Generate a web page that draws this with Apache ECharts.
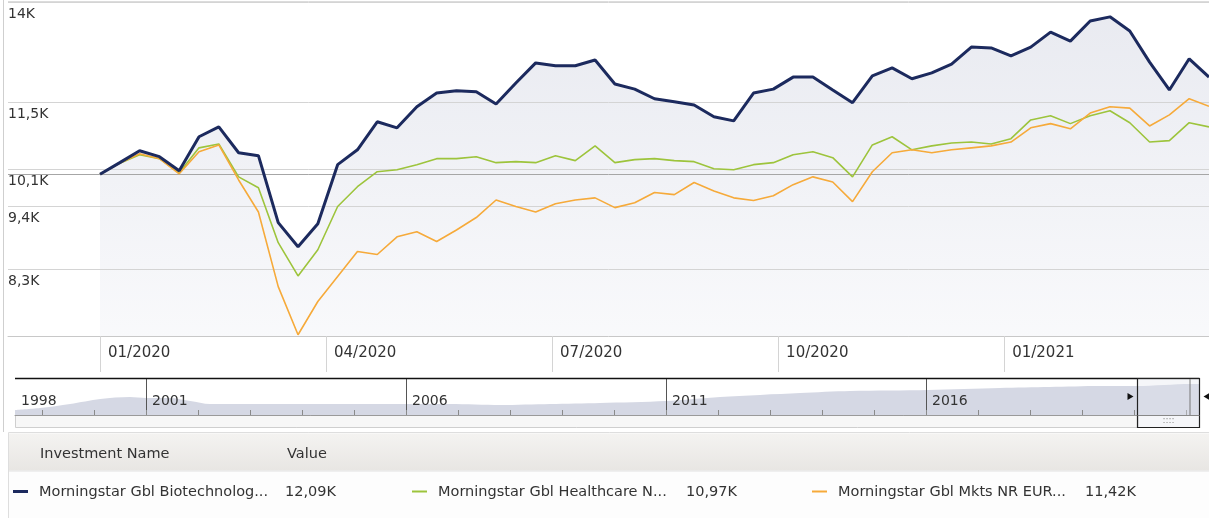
<!DOCTYPE html>
<html><head><meta charset="utf-8">
<script src="https://cdn.jsdelivr.net/npm/echarts@6/dist/echarts.min.js"></script>
<style>html,body{margin:0;padding:0;background:#fff}#c{width:1209px;height:518px}</style>
</head><body><div id="c"></div>
<script>
// ---- data ----
const xTickPositions = [0, 11.414, 22.828, 34.242, 45.656];
const xTickLabels = ['01/2020', '04/2020', '07/2020', '10/2020', '01/2021'];
const yGridValues = [14000, 11500, 10100, 9400, 8300];
const yGridLabels = ['14K', '11,5K', '10,1K', '9,4K', '8,3K'];
const baseValue = 10000;

const biotech = [10000,10230,10470,10350,10070,10760,10970,10430,10370,9100,8680,9080,10190,10490,11080,10950,11410,11720,11770,11750,11470,11950,12430,12360,12360,12500,11930,11810,11590,11520,11450,11190,11100,11720,11810,12090,12090,11790,11500,12120,12310,12050,12190,12400,12820,12800,12600,12820,13200,12970,13490,13600,13230,12450,11790,12530,12090];
const healthcare = [10000,10220,10390,10310,10030,10530,10610,9950,9740,8750,8200,8630,9390,9760,10050,10090,10190,10310,10310,10350,10230,10250,10230,10370,10270,10570,10230,10290,10310,10270,10250,10110,10090,10190,10230,10390,10450,10330,9950,10590,10760,10490,10570,10630,10650,10610,10720,11120,11210,11040,11210,11320,11060,10650,10680,11060,10970];
const markets = [10000,10220,10410,10310,10010,10450,10590,9890,9290,8030,7310,7800,8190,8600,8550,8850,8940,8770,8970,9190,9510,9390,9290,9440,9510,9550,9370,9460,9650,9610,9840,9680,9550,9500,9590,9800,9950,9850,9480,10050,10430,10490,10430,10490,10530,10570,10650,10950,11040,10930,11270,11410,11380,10990,11230,11590,11420];

const navYears = [1998.48,1998.96,1999.54,2000.12,2000.69,2001.0,2001.46,2001.85,2002.23,2003.19,2003.96,2004.92,2006.0,2006.85,2007.81,2008.77,2009.73,2011.0,2012.04,2013.58,2014.54,2016.04,2017.42,2018.38,2019.35,2020.06,2021.08,2021.25];
const navValues = [5,7,11,16,18,17,17,14,11,11,11,11,11,11,10,11,12,14,18,22,24,25,27,28,29,29,31,31];
const navLabelValues = [1998.48, 2001, 2006, 2011, 2016];
const navLabels = ['1998', '2001', '2006', '2011', '2016'];
const navDividers = [2001, 2006, 2011, 2016];
const navMinorTicks = [1999,2000,2001,2002,2003,2004,2005,2006,2007,2008,2009,2010,2011,2012,2013,2014,2015,2016,2017,2018,2019,2020,2021];
const windowRange = [2020.06, 2021.25];

const seriesNames = ['Morningstar Gbl Biotechnolog...', 'Morningstar Gbl Healthcare N...', 'Morningstar Gbl Mkts NR EUR...'];
const lastValues = ['12,09K', '10,97K', '11,42K'];
const colors = ['#1c2a5e', '#9dc43c', '#f6aa3a'];

// ---- chart ----
const FONT = 'DejaVu Sans';
const chart = echarts.init(document.getElementById('c'), null, {renderer: 'canvas'});
const pairs = arr => arr.map((v, i) => [i, v]);

const gridMark = yGridValues.map((v, k) => ({
  yAxis: v,
  label: {formatter: yGridLabels[k]}
}));
gridMark.push({yAxis: baseValue, lineStyle: {color: '#a6a6a6', width: 1}, label: {show: false}});

const option = {
  animation: false,
  grid: [
    {left: 8, right: 0, top: 2, height: 334},
    {left: 15, right: 10, top: 379, height: 36}
  ],
  xAxis: [
    {
      type: 'value', gridIndex: 0, min: -4.6456, max: 56,
      axisLine: {show: true, lineStyle: {color: '#c8c8c8'}},
      axisTick: {show: true, customValues: xTickPositions, length: 36, lineStyle: {color: '#d4d4d4'}},
      axisLabel: {
        show: true, customValues: xTickPositions, align: 'left', margin: 10,
        padding: [0, 0, 0, 8], fontFamily: FONT, fontSize: 15, color: '#333',
        formatter: v => {
          let best = 0;
          xTickPositions.forEach((p, k) => { if (Math.abs(p - v) < Math.abs(xTickPositions[best] - v)) best = k; });
          return xTickLabels[best];
        }
      },
      splitLine: {show: false}
    },
    {
      type: 'value', gridIndex: 1, min: 1998.48, max: 2021.25, z: 5,
      axisLine: {show: true, lineStyle: {color: '#9a9a9a'}},
      axisTick: {show: true, inside: true, customValues: navMinorTicks, length: 5, lineStyle: {color: '#8a8a8a'}},
      axisLabel: {
        show: true, inside: true, customValues: navLabelValues, align: 'left', margin: 7,
        padding: [0, 0, 0, 6], fontFamily: FONT, fontSize: 14, color: '#333',
        formatter: v => {
          let best = 0;
          navLabelValues.forEach((p, k) => { if (Math.abs(p - v) < Math.abs(navLabelValues[best] - v)) best = k; });
          return navLabels[best];
        }
      },
      splitLine: {show: false}
    }
  ],
  yAxis: [
    {type: 'log', logBase: 10, gridIndex: 0, min: 7292, max: 14000,
     axisLine: {show: false}, axisTick: {show: false}, axisLabel: {show: false}, splitLine: {show: false}},
    {type: 'value', gridIndex: 1, min: 0, max: 36, show: false, splitLine: {show: false}}
  ],
  series: [
    {
      name: 'area', type: 'line', xAxisIndex: 0, yAxisIndex: 0, data: pairs(biotech),
      symbol: 'none', silent: true, z: 1,
      lineStyle: {width: 0, opacity: 0},
      areaStyle: {
        origin: 'start',
        color: new echarts.graphic.LinearGradient(0, 0, 0, 1, [
          {offset: 0, color: '#dfe1ea'}, {offset: 1, color: '#f5f6f9'}
        ])
      },
      markLine: {
        silent: true, symbol: 'none', animation: false,
        lineStyle: {color: '#d4d4d4', width: 1, type: 'solid'},
        label: {show: true, position: 'insideStartBottom', distance: [0, 5],
                fontFamily: FONT, fontSize: 14, color: '#333'},
        data: gridMark
      }
    },
    {name: seriesNames[1], type: 'line', data: pairs(healthcare), symbol: 'none', z: 6,
     lineStyle: {color: colors[1], width: 1.6}, itemStyle: {color: colors[1]}},
    {name: seriesNames[2], type: 'line', data: pairs(markets), symbol: 'none', z: 6,
     lineStyle: {color: colors[2], width: 1.6}, itemStyle: {color: colors[2]}},
    {name: seriesNames[0], type: 'line', data: pairs(biotech), symbol: 'none', z: 7,
     lineStyle: {color: colors[0], width: 3}, itemStyle: {color: colors[0]}},
    {
      name: 'nav', type: 'line', xAxisIndex: 1, yAxisIndex: 1,
      data: navYears.map((y, i) => [y, navValues[i]]),
      symbol: 'none', silent: true, smooth: 0.3, z: 1,
      lineStyle: {width: 0, opacity: 0},
      areaStyle: {color: '#d5d8e4', opacity: 1, origin: 'start'},
      markLine: {
        silent: true, symbol: 'none', animation: false,
        lineStyle: {color: '#555', width: 1, type: 'solid'},
        label: {show: false},
        data: navDividers.map(y => ({xAxis: y}))
      }
    }
  ]
};
chart.setOption(option);

// ---- decorations (navigator window, table) ----
const wl = Math.round(chart.convertToPixel({xAxisIndex: 1}, windowRange[0])) + 0.5;
const wr = Math.round(chart.convertToPixel({xAxisIndex: 1}, windowRange[1])) + 0.5;
const navL = Math.round(chart.convertToPixel({xAxisIndex: 1}, 1998.48));

const g = [];
g.push({type: 'line', shape: {x1: 3.5, y1: 0, x2: 3.5, y2: 432}, style: {stroke: '#cfcfcf', lineWidth: 1}, silent: true});
g.push({type: 'line', shape: {x1: 8, y1: 1.5, x2: 1209, y2: 1.5}, style: {stroke: '#dcdcdc', lineWidth: 1}, silent: true});
// scroll track
g.push({type: 'rect', shape: {x: navL + 0.5, y: 415.5, width: wl - navL, height: 12}, style: {fill: '#f7f7f7', stroke: '#cfcfcf', lineWidth: 1}, silent: true});
// navigator top line
g.push({type: 'line', shape: {x1: navL, y1: 378.5, x2: wr, y2: 378.5}, style: {stroke: '#111', lineWidth: 1.5}, silent: true, z: 10});
// window box
g.push({type: 'rect', shape: {x: wl, y: 378.5, width: wr - wl, height: 49}, style: {fill: 'rgba(225,228,238,0.35)', stroke: '#222', lineWidth: 1.2}, silent: true, z: 10});
g.push({type: 'line', shape: {x1: wl, y1: 415.5, x2: wr, y2: 415.5}, style: {stroke: '#888', lineWidth: 1}, silent: true, z: 10});
g.push({type: 'line', shape: {x1: wr - 9.5, y1: 379, x2: wr - 9.5, y2: 415}, style: {stroke: '#777', lineWidth: 1}, silent: true, z: 10});
g.push({type: 'text', style: {x: (wl + wr) / 2, y: 421, text: '::::', fill: '#888', font: '9px ' + FONT, align: 'center', verticalAlign: 'middle'}, silent: true, z: 10});
g.push({type: 'polygon', shape: {points: [[wl - 10, 393], [wl - 4, 396.5], [wl - 10, 400]]}, style: {fill: '#111'}, silent: true, z: 10});
g.push({type: 'polygon', shape: {points: [[wr + 10, 393], [wr + 4, 396.5], [wr + 10, 400]]}, style: {fill: '#111'}, silent: true, z: 10});
// table
g.push({type: 'rect', shape: {x: 8.5, y: 432.5, width: 1205, height: 90}, style: {fill: '#fdfdfd', stroke: '#dedede', lineWidth: 1}, silent: true});
g.push({type: 'rect', shape: {x: 9, y: 433.5, width: 1200, height: 37},
  style: {fill: new echarts.graphic.LinearGradient(0, 0, 0, 1, [{offset: 0, color: '#f4f3f1'}, {offset: 1, color: '#e8e6e3'}])}, silent: true});
g.push({type: 'line', shape: {x1: 9, y1: 471, x2: 1209, y2: 471}, style: {stroke: '#e2e2e2', lineWidth: 1}, silent: true});
g.push({type: 'text', style: {x: 40, y: 454, text: 'Investment Name', fill: '#333', font: '14.5px ' + FONT, verticalAlign: 'middle'}, silent: true});
g.push({type: 'text', style: {x: 287, y: 454, text: 'Value', fill: '#333', font: '14.5px ' + FONT, verticalAlign: 'middle'}, silent: true});
const dashX = [13, 412, 812];
const valX = [285, 686, 1085];
seriesNames.forEach((nm, k) => {
  g.push({type: 'line', shape: {x1: dashX[k], y1: 491.5, x2: dashX[k] + 15, y2: 491.5}, style: {stroke: colors[k], lineWidth: k === 0 ? 3 : 2}, silent: true});
  g.push({type: 'text', style: {x: dashX[k] + 26, y: 492, text: nm, fill: '#333', font: '14.5px ' + FONT, verticalAlign: 'middle'}, silent: true});
  g.push({type: 'text', style: {x: valX[k], y: 492, text: lastValues[k], fill: '#333', font: '14.5px ' + FONT, verticalAlign: 'middle'}, silent: true});
});
chart.setOption({graphic: {elements: g}});
</script>
</body></html>
